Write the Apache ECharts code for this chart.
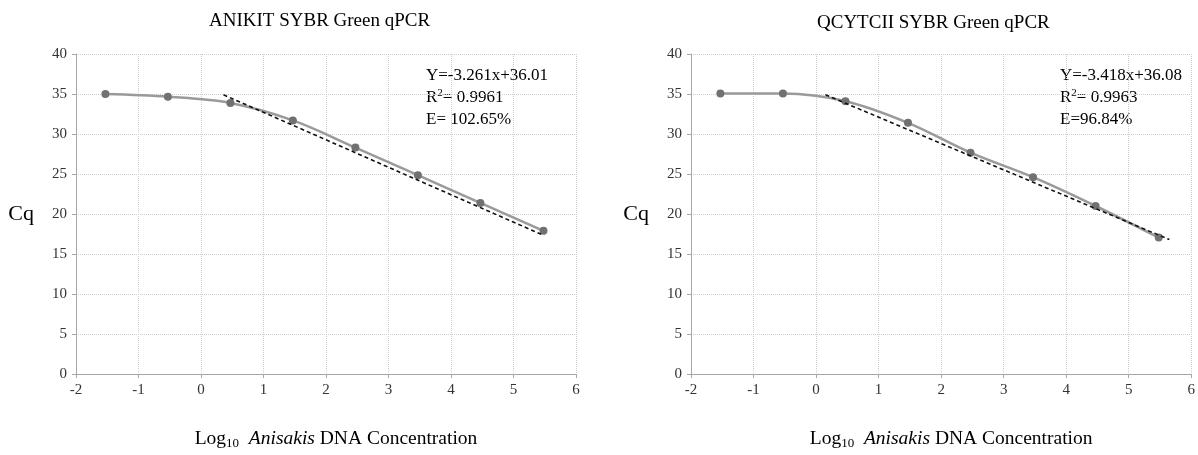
<!DOCTYPE html>
<html>
<head>
<meta charset="utf-8">
<script src="https://cdn.jsdelivr.net/npm/echarts@6/dist/echarts.min.js"></script>
<style>
  html, body { margin: 0; padding: 0; background: #fff; }
  #main { width: 1198px; height: 455px; }
</style>
</head>
<body>
<div id="main"></div>
<script>
// 数据
var logConc = [-1.53, -0.53, 0.47, 1.47, 2.47, 3.47, 4.47, 5.48];
var cqAnikit = [35.0, 34.66, 33.88, 31.7, 28.3, 24.85, 21.38, 17.9];
var cqQcytc = [35.05, 35.05, 34.1, 31.4, 27.67, 24.6, 21.0, 17.05];
// trendline end points
var trendAnikit = [[0.36, 34.9], [5.49, 17.3]];
var trendQcytc = [[0.15, 34.9], [5.65, 16.8]];
var titles = ['ANIKIT SYBR Green qPCR', 'QCYTCII SYBR Green qPCR'];
var eqAnikit = ['Y=-3.261x+36.01', '0.9961', 'E= 102.65%'];
var eqQcytc = ['Y=-3.418x+36.08', '0.9963', 'E=96.84%'];

(function() {
  var myChart = echarts.init(document.getElementById('main'));
  var font = '"Liberation Serif", "Times New Roman", serif';

  function pairs(xs, ys) {
    return xs.map(function(x, i) { return [x, ys[i]]; });
  }

  function xAxis(idx) {
    return {
      type: 'value',
      gridIndex: idx,
      min: -2, max: 6, interval: 1,
      name: '{a|Log}{s|10}{a|  }{i|Anisakis}{a| DNA Concentration}',
      nameLocation: 'middle',
      nameGap: 53,
      nameTextStyle: {
        padding: [0, 0, 0, 20],
        rich: {
          a: { fontFamily: font, fontSize: 19.5, color: '#000' },
          s: { fontFamily: font, fontSize: 13, color: '#000', padding: [10, 0, 0, 0] },
          i: { fontFamily: font, fontSize: 19.5, color: '#000', fontStyle: 'italic' }
        }
      },
      axisLine: { show: true, onZero: false, lineStyle: { color: '#a6a6a6', width: 1 } },
      axisTick: { show: true, length: 4, lineStyle: { color: '#a6a6a6' } },
      axisLabel: { fontFamily: font, fontSize: 15, color: '#333', margin: 9 },
      splitLine: { show: true, lineStyle: { color: '#cfcfcf', type: 'dotted' } }
    };
  }

  function yAxis(idx) {
    return {
      type: 'value',
      gridIndex: idx,
      min: 0, max: 40, interval: 5,
      name: 'Cq',
      nameLocation: 'middle',
      nameRotate: 0,
      nameGap: 42,
      nameTextStyle: { fontFamily: font, fontSize: 22, color: '#000' },
      axisLine: { show: true, onZero: false, lineStyle: { color: '#a6a6a6', width: 1 } },
      axisTick: { show: true, length: 4, lineStyle: { color: '#a6a6a6' } },
      axisLabel: { fontFamily: font, fontSize: 15, color: '#333', margin: 9 },
      splitLine: { show: true, lineStyle: { color: '#cfcfcf', type: 'dotted' } }
    };
  }

  function curve(idx, ys) {
    return {
      type: 'line',
      xAxisIndex: idx, yAxisIndex: idx,
      smooth: 0.35,
      data: pairs(logConc, ys),
      symbol: 'circle',
      symbolSize: 8,
      lineStyle: { color: '#9a9a9a', width: 2.5 },
      itemStyle: { color: '#717171' },
      z: 3
    };
  }

  function trend(idx, pts) {
    return {
      type: 'line',
      xAxisIndex: idx, yAxisIndex: idx,
      data: pts,
      symbol: 'none',
      lineStyle: { color: '#111', width: 1.6, type: [4, 3] },
      z: 4
    };
  }

  function eqText(x, lines) {
    return {
      type: 'text',
      left: x, top: 67,
      style: {
        text: '{a|' + lines[0] + '}\n{a|R}{p|2}{a|= ' + lines[1] + '}\n{a|' + lines[2] + '}',
        rich: {
          a: { fontFamily: font, fontSize: 17, fill: '#000', lineHeight: 22 },
          p: { fontFamily: font, fontSize: 11, fill: '#000', padding: [0, 0, 8, 0], lineHeight: 22 }
        }
      }
    };
  }

  var option = {
    backgroundColor: '#fff',
    animation: false,
    title: [
      { text: titles[0], left: 204, top: 7,
        textStyle: { fontFamily: font, fontSize: 19, fontWeight: 'normal', color: '#000' } },
      { text: titles[1], left: 812, top: 9,
        textStyle: { fontFamily: font, fontSize: 19, fontWeight: 'normal', color: '#000' } }
    ],
    grid: [
      { left: 76, top: 54, width: 500, height: 322 },
      { left: 691, top: 54, width: 501, height: 322 }
    ],
    xAxis: [xAxis(0), xAxis(1)],
    yAxis: [yAxis(0), yAxis(1)],
    series: [
      curve(0, cqAnikit), trend(0, trendAnikit),
      curve(1, cqQcytc), trend(1, trendQcytc)
    ],
    graphic: [eqText(426, eqAnikit), eqText(1060, eqQcytc)]
  };

  myChart.setOption(option);
})();
</script>
</body>
</html>
